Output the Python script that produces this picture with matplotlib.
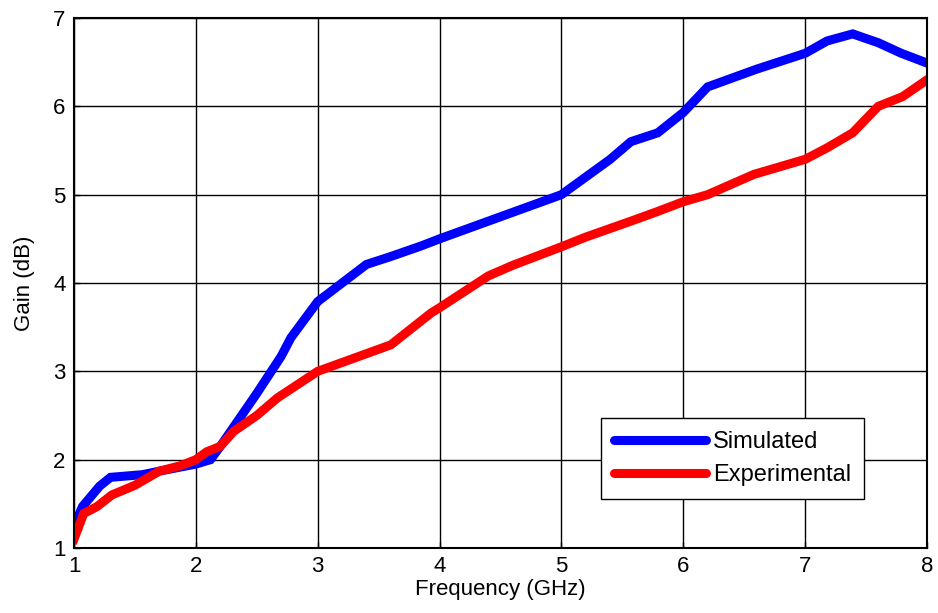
import matplotlib
matplotlib.use("Agg")
import matplotlib.pyplot as plt

freq_sim = [1.0, 1.07, 1.21, 1.3, 1.56, 1.7, 2.0, 2.12, 2.2, 2.5, 2.7, 2.78, 3.0, 3.2, 3.4, 3.6, 3.85,
            4.0, 4.4, 4.6, 5.0, 5.2, 5.4, 5.57, 5.79, 6.0, 6.2, 6.6, 7.0, 7.18, 7.39, 7.6, 7.79, 8.0]
gain_sim = [1.25, 1.47, 1.70, 1.80, 1.83, 1.87, 1.95, 2.0, 2.15, 2.75, 3.17, 3.38, 3.79, 4.0, 4.21, 4.3, 4.42,
            4.5, 4.7, 4.8, 5.0, 5.2, 5.4, 5.6, 5.7, 5.93, 6.22, 6.42, 6.6, 6.74, 6.82, 6.72, 6.6, 6.49]

freq_exp = [1.0, 1.08, 1.19, 1.31, 1.5, 1.7, 1.87, 2.0, 2.09, 2.2, 2.31, 2.5, 2.67, 3.0, 3.2, 3.4, 3.6,
            3.93, 4.0, 4.2, 4.4, 4.6, 5.0, 5.2, 5.57, 5.79, 6.0, 6.2, 6.58, 7.0, 7.18, 7.39, 7.6, 7.8, 8.0]
gain_exp = [1.1, 1.39, 1.47, 1.6, 1.71, 1.87, 1.93, 2.0, 2.09, 2.15, 2.32, 2.5, 2.70, 3.0, 3.1, 3.2, 3.3,
            3.66, 3.72, 3.9, 4.08, 4.2, 4.41, 4.52, 4.70, 4.81, 4.92, 5.0, 5.23, 5.40, 5.53, 5.70, 6.0, 6.11, 6.30]

x_ticks = [1, 2, 3, 4, 5, 6, 7, 8]
y_ticks = [1, 2, 3, 4, 5, 6, 7]

plt.rcParams['font.family'] = ['Liberation Sans', 'DejaVu Sans']

fig = plt.figure(figsize=(9.38, 6.13), dpi=100)
ax = fig.add_axes([74/938, 1-548/613, (927-74)/938, (548-18)/613])

ax.plot(freq_sim, gain_sim, color='#0000ff', lw=6.5, label='Simulated', solid_joinstyle='miter')
ax.plot(freq_exp, gain_exp, color='#ff0000', lw=6.5, label='Experimental', solid_joinstyle='miter')

ax.set_xlim(1, 8)
ax.set_ylim(1, 7)
ax.set_xticks(x_ticks)
ax.set_yticks(y_ticks)
ax.grid(True, color='black', lw=1, ls='-')
ax.set_axisbelow(True)
ax.tick_params(direction='in', length=4, labelsize=16, width=1, pad=6)
for s in ax.spines.values():
    s.set_linewidth(1.5)
    s.set_color('black')

ax.set_xlabel('Frequency (GHz)', fontsize=16, labelpad=1)
ax.set_ylabel('Gain (dB)', fontsize=16, labelpad=13)

leg = ax.legend(loc='lower right', bbox_to_anchor=(864/938, 1-499/613), bbox_transform=fig.transFigure,
                fontsize=17, frameon=True, fancybox=False, edgecolor='black', framealpha=1,
                handlelength=3.9, handletextpad=0.3, borderpad=0.55, labelspacing=0.45,
                borderaxespad=0)
leg.get_frame().set_linewidth(1)
for h in leg.get_lines():
    h.set_solid_capstyle('round')

fig.savefig('out.png', dpi=100)
